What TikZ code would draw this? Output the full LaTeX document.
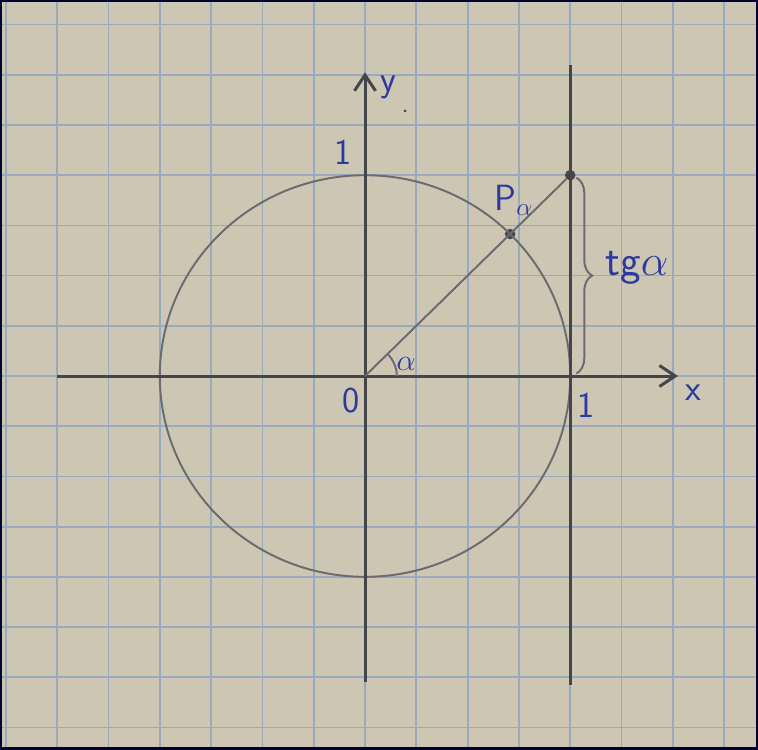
\documentclass[tikz,border=0pt]{standalone}
\usepackage{tikz}
\usetikzlibrary{arrows.meta,decorations.pathreplacing}
\definecolor{paper}{HTML}{CCC6B3}
\definecolor{gridblue}{HTML}{98AABD}
\definecolor{pencil}{HTML}{45454C}
\definecolor{ink}{HTML}{2B3A9E}
\tikzset{
  lbl/.style={text=ink,font=\huge\sffamily,inner sep=1pt},
  axis/.style={pencil,line width=1.7pt,-{Straight Barb[length=9pt,width=12pt]}},
  thin pencil/.style={pencil!80,line width=1.1pt},
  dot/.style={circle,fill=pencil,inner sep=0pt,minimum size=6pt}
}
\begin{document}
\begin{tikzpicture}[x=1.026cm,y=1.004cm]
\useasboundingbox (-7.115,-7.43) rectangle (7.66,7.49);
\fill[paper] (-7.115,-7.43) rectangle (7.66,7.49);
\draw[gridblue, line width=1pt, step=1] (-7.115,-7.43) grid (7.66,7.49);
\draw[black!80!blue, line width=2pt] (-7.115,-7.43) rectangle (7.66,7.49);
\coordinate (xs) at (-6,0);
\coordinate (xe) at (6.1,0);
\coordinate (ys) at (0,-6.1);
\coordinate (ye) at (0,6.05);
\coordinate (ts) at (4,-6.15);
\coordinate (te) at (4,6.2);
\coordinate (O) at (0,0);
\node[dot] (P) at (45:4) {};
\node[dot] (T) at (4,4) {};
\draw[thin pencil] (O) circle (4);
\draw[axis] (xs) -- (xe);
\draw[axis] (ys) -- (ye);
\draw[pencil, line width=1.7pt] (ts) -- (te);
\draw[thin pencil] (O) -- (T);
\draw[thin pencil] (0.62,0) arc (0:45:0.62);
\draw[thin pencil, decorate, decoration={brace,amplitude=9pt}] (4.12,3.95) -- (4.12,0.05);
\fill[pencil] (0.78,5.28) circle (0.03);
\node[lbl] (one y) at (-0.43,4.46) {1};
\node[lbl] (y) at (0.45,5.74) {y};
\node[lbl] (Pa) at (2.9,3.5) {P$_\alpha$};
\node[lbl, font=\Huge\sffamily] (tg) at (5.3,2.15) {tg$\alpha$};
\node[lbl] (zero) at (-0.27,-0.48) {0};
\node[lbl, font=\LARGE] (a) at (0.8,0.24) {$\alpha$};
\node[lbl] (one x) at (4.3,-0.58) {1};
\node[lbl] (x) at (6.4,-0.34) {x};
\end{tikzpicture}
\end{document}
